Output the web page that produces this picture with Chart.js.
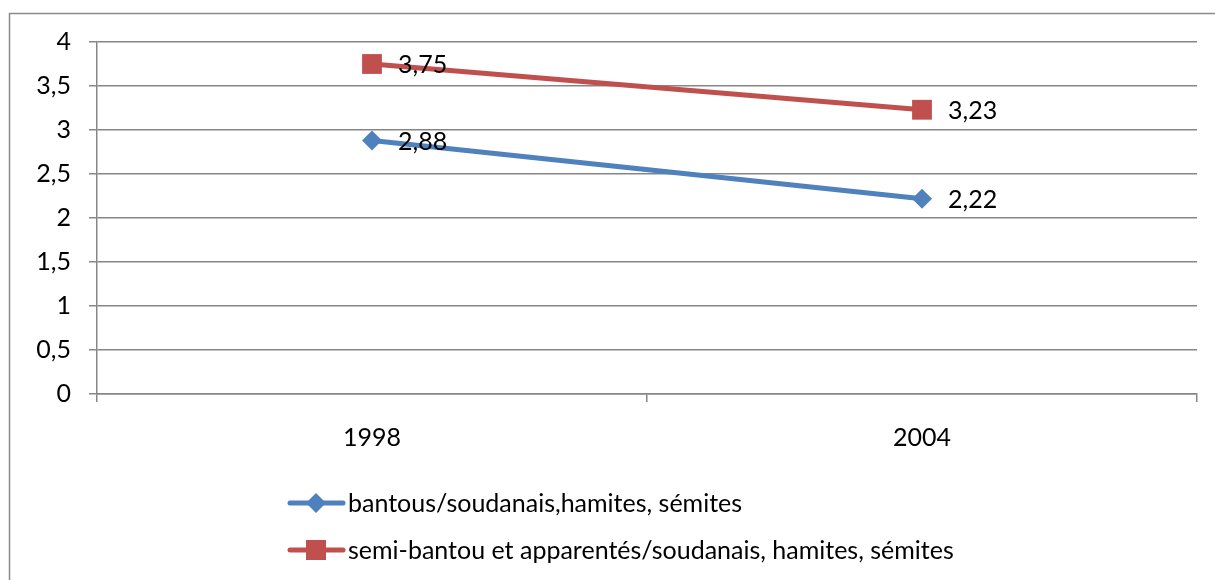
<!DOCTYPE html>
<html>
<head>
<meta charset="utf-8">
<script src="https://cdn.jsdelivr.net/npm/chart.js@4/dist/chart.umd.min.js"></script>
<style>
  html, body { margin: 0; padding: 0; background: #fff; }
  #wrap { width: 1215px; height: 580px; position: relative; }
</style>
</head>
<body>
<div id="wrap"><canvas id="c" width="1215" height="580"></canvas></div>
<script>
// Years on the category axis
const years = ['1998', '2004'];
// Series values
const bantouValues = [2.88, 2.22];
const semiBantouValues = [3.75, 3.23];
// Series names
const seriesNames = [
  'bantous/soudanais,hamites, sémites',
  'semi-bantou et apparentés/soudanais, hamites, sémites'
];
// Value axis ticks
const yTicks = [0, 0.5, 1, 1.5, 2, 2.5, 3, 3.5, 4];

const FONT = 'Lato, "Open Sans", sans-serif';
const FONT_SIZE = 25;
const GRID = '#868686';
const BLUE = '#4F81BD';
const RED = '#C0504D';

const fmt = v => String(v).replace('.', ',');

// Outer frame of the chart object
const framePlugin = {
  id: 'frame',
  beforeDraw(chart) {
    const ctx = chart.ctx;
    ctx.save();
    ctx.strokeStyle = '#8a8a8a';
    ctx.lineWidth = 1.5;
    ctx.strokeRect(9.5, 13.5, 1260, 620);
    ctx.restore();
  }
};

// Value labels to the right of each point
const valueLabels = {
  id: 'valueLabels',
  afterDatasetsDraw(chart) {
    const ctx = chart.ctx;
    ctx.save();
    ctx.font = FONT_SIZE + 'px ' + FONT;
    ctx.fillStyle = '#000';
    ctx.textAlign = 'left';
    ctx.textBaseline = 'middle';
    chart.data.datasets.forEach((ds, i) => {
      chart.getDatasetMeta(i).data.forEach((pt, j) => {
        ctx.fillText(fmt(ds.data[j]), pt.x + 26, pt.y + 1);
      });
    });
    ctx.restore();
  }
};

// Vertical legend under the axis
const stackedLegend = {
  id: 'stackedLegend',
  afterDraw(chart) {
    const ctx = chart.ctx;
    const rows = [503, 550];
    ctx.save();
    chart.data.datasets.forEach((ds, i) => {
      const y = rows[i];
      ctx.strokeStyle = ds.borderColor;
      ctx.lineWidth = 5;
      ctx.lineCap = 'round';
      ctx.beginPath();
      ctx.moveTo(290, y);
      ctx.lineTo(343, y);
      ctx.stroke();
      ctx.fillStyle = ds.backgroundColor;
      ctx.beginPath();
      if (ds.pointStyle === 'rect') {
        ctx.rect(316 - 10, y - 10, 20, 20);
      } else {
        ctx.moveTo(316, y - 10);
        ctx.lineTo(326, y);
        ctx.lineTo(316, y + 10);
        ctx.lineTo(306, y);
        ctx.closePath();
      }
      ctx.fill();
      ctx.font = FONT_SIZE + 'px ' + FONT;
      ctx.fillStyle = '#000';
      ctx.textAlign = 'left';
      ctx.textBaseline = 'middle';
      ctx.fillText(ds.label, 348, y + 1);
    });
    ctx.restore();
  }
};

new Chart(document.getElementById('c'), {
  type: 'line',
  data: {
    labels: years,
    datasets: [
      {
        label: seriesNames[0],
        data: bantouValues,
        borderColor: BLUE,
        backgroundColor: BLUE,
        borderWidth: 5,
        pointStyle: 'rectRot',
        pointRadius: 10,
        pointBorderWidth: 0,
        tension: 0
      },
      {
        label: seriesNames[1],
        data: semiBantouValues,
        borderColor: RED,
        backgroundColor: RED,
        borderWidth: 5,
        pointStyle: 'rect',
        pointRadius: 14,
        pointBorderWidth: 0,
        tension: 0
      }
    ]
  },
  options: {
    responsive: false,
    animation: false,
    layout: { padding: { top: 42, right: 18, left: 0, bottom: 0 } },
    plugins: {
      legend: { display: false },
      tooltip: { enabled: false }
    },
    scales: {
      x: {
        offset: true,
        grid: {
          offset: true,
          drawOnChartArea: false,
          drawTicks: true,
          tickLength: 8,
          color: GRID,
          lineWidth: 1.5
        },
        border: { display: true, color: GRID, width: 1.5 },
        ticks: {
          color: '#000',
          padding: 21,
          font: { family: FONT, size: FONT_SIZE }
        },
        afterFit(scale) { scale.height = 186; }
      },
      y: {
        min: 0,
        max: 4,
        afterBuildTicks(scale) { scale.ticks = yTicks.map(v => ({ value: v })); },
        grid: {
          color: GRID,
          lineWidth: 1.5,
          tickLength: 8
        },
        border: { display: true, color: GRID, width: 1.5 },
        ticks: {
          color: '#000',
          padding: 18,
          font: { family: FONT, size: FONT_SIZE },
          callback: v => fmt(v)
        },
        afterFit(scale) { scale.width = 97; }
      }
    }
  },
  plugins: [framePlugin, valueLabels, stackedLegend]
});
</script>
</body>
</html>
